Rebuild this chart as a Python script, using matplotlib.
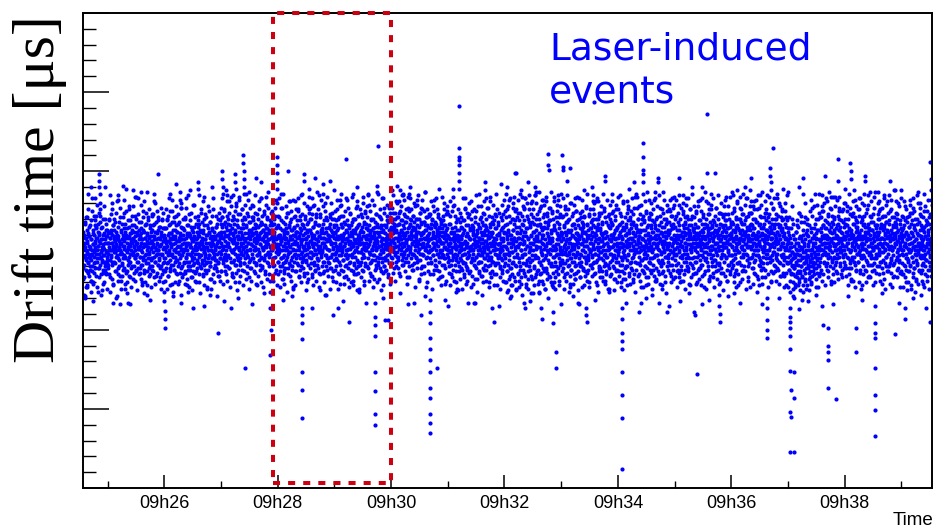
import numpy as np
import matplotlib
matplotlib.use("Agg")
import matplotlib.pyplot as plt
from matplotlib.patches import Rectangle
from matplotlib.ticker import FixedLocator, MultipleLocator

plt.rcParams['font.family'] = ['Liberation Sans', 'DejaVu Sans']

# ------------------------
# Dados: tempo em minutos depois de 09h00, drift time em unidades arbitrárias (0-300)
# ------------------------
seg_start = [24.566, 25, 26, 27, 28, 29, 30, 31, 32, 33, 34, 35, 36, 37, 38, 39]
seg_len = [0.434, 1, 1, 1, 1, 1, 1, 1, 1, 1, 1, 1, 1, 1, 1, 0.54]

# banda principal, primeira leitura (por minuto)
c24 = [150, 162, 141, 155, 133, 147, 168, 152, 138, 158, 145, 171, 149, 127, 156, 143, 161, 136, 153, 146,
       159, 140, 166, 151, 131, 148, 157, 144, 175, 150, 137, 163, 154, 129, 146, 160, 142, 152, 169, 139,
       155, 148, 134, 164, 150, 143, 158, 124, 153, 167, 145, 139, 161, 156, 180, 176, 172, 149, 135, 157,
       144, 152, 165, 138, 154, 147, 160, 130, 151, 143, 170, 157, 140, 149, 163, 136, 155, 146, 159, 142]
c25 = [148, 161, 139, 155, 170, 152, 144, 158, 133, 163, 150, 147, 176, 155, 141, 160, 153, 129, 166, 149,
       157, 143, 151, 168, 137, 154, 162, 146, 158, 181, 150, 135, 159, 145, 165, 152, 140, 156, 171, 148,
       154, 163, 131, 149, 157, 142, 167, 153, 138, 160, 147, 174, 151, 156, 126, 145, 162, 150, 158, 136,
       164, 149, 155, 141, 169, 152, 134, 159, 146, 178, 153, 143, 161, 157, 139, 150, 166, 148, 155, 132,
       147, 158, 162, 140, 153, 172, 145, 156, 150, 137, 165, 154, 143, 160, 148, 183, 152, 139, 157, 163,
       151, 136, 159, 146, 168, 155, 141, 161, 149, 130, 157, 152, 175, 144, 162, 138, 154, 166, 147, 158,
       153, 167, 142, 156, 150, 128, 160, 145, 171, 152, 139, 158, 148, 164, 155, 135, 151, 162, 144, 173,
       156, 140, 163, 149, 154, 137, 159, 167, 146, 152, 180, 143, 157, 150, 134, 161, 148, 155, 169, 141,
       150, 158, 145, 165, 153, 133, 157, 148, 162, 140, 154, 170, 147, 159, 138, 151, 164, 156, 143, 160]
c26 = [145, 158, 151, 137, 164, 149, 155, 170, 142, 153, 160, 134, 147, 156, 166, 150, 139, 158, 144, 175,
       152, 141, 161, 148, 157, 129, 154, 163, 146, 150, 138, 168, 155, 143, 159, 151, 172, 136, 149, 162,
       156, 144, 153, 167, 140, 158, 148, 131, 161, 152, 145, 177, 157, 139, 150, 164, 147, 154, 135, 160,
       149, 163, 142, 155, 151, 170, 137, 158, 146, 153, 128, 161, 150, 143, 166, 155, 140, 159, 148, 173,
       154, 138, 160, 147, 165, 152, 133, 157, 149, 144, 162, 156, 141, 151, 179, 145, 158, 136, 153, 167,
       150, 157, 143, 162, 139, 155, 148, 169, 152, 130, 159, 146, 154, 163, 140, 151, 174, 147, 156, 142,
       158, 135, 153, 161, 149, 144, 166, 151, 157, 138, 148, 171, 155, 142, 160, 126, 152, 164, 145, 150,
       162, 147, 155, 140, 158, 168, 143, 153, 150, 132, 156, 145, 163, 149, 176, 154, 139, 159, 146, 152,
       141, 157, 150, 165, 144, 153, 160, 137, 148, 156, 170, 143, 152, 134, 161, 149, 158, 145, 167, 155]
c27 = [160, 148, 165, 153, 171, 142, 158, 151, 175, 146, 162, 137, 156, 168, 150, 144, 159, 181, 153, 140,
       163, 155, 147, 170, 139, 158, 152, 166, 145, 161, 184, 150, 157, 134, 164, 149, 172, 155, 143, 160,
       151, 167, 156, 141, 162, 148, 178, 154, 136, 159, 146, 169, 157, 152, 144, 165, 130, 158, 150, 173,
       157, 143, 164, 153, 149, 176, 160, 138, 155, 167, 147, 158, 142, 171, 152, 161, 145, 156, 186, 149,
       165, 140, 158, 150, 172, 155, 146, 163, 133, 159, 151, 168, 144, 157, 162, 139, 154, 179, 148, 160,
       153, 169, 145, 161, 156, 137, 164, 150, 174, 158, 142, 155, 166, 147, 160, 128, 157, 151, 170, 144,
       159, 148, 166, 154, 141, 162, 157, 183, 146, 152, 167, 139, 158, 163, 150, 145, 173, 156, 135, 161,
       147, 164, 152, 159, 170, 143, 156, 161, 149, 177, 154, 140, 163, 157, 148, 166, 131, 158, 153, 168,
       162, 150, 175, 145, 158, 152, 140, 167, 155, 160, 146, 172, 153, 138, 164, 157, 149, 180, 151, 159]
c28 = [152, 166, 143, 158, 171, 149, 137, 160, 154, 145, 177, 156, 140, 163, 150, 168, 146, 132, 159, 153,
       161, 147, 155, 139, 167, 152, 158, 144, 174, 150, 162, 135, 156, 148, 165, 142, 153, 181, 157, 141,
       149, 163, 157, 170, 138, 154, 146, 160, 151, 127, 164, 155, 143, 159, 172, 148, 156, 137, 162, 150,
       158, 142, 166, 153, 147, 175, 159, 134, 152, 161, 145, 169, 156, 140, 154, 163, 149, 186, 157, 144,
       146, 160, 151, 164, 136, 157, 150, 172, 143, 158, 155, 130, 162, 148, 167, 153, 141, 159, 176, 152,
       163, 139, 156, 149, 170, 145, 161, 154, 133, 158, 147, 165, 152, 178, 143, 160, 155, 138, 150, 168,
       154, 148, 173, 157, 141, 162, 151, 166, 144, 156, 136, 159, 149, 171, 153, 125, 158, 146, 163, 155,
       150, 164, 143, 158, 167, 152, 137, 161, 155, 147, 180, 153, 140, 157, 162, 145, 169, 151, 134, 160,
       157, 142, 165, 150, 156, 173, 146, 159, 139, 154, 163, 148, 170, 155, 131, 161, 152, 144, 166, 158]
c29 = [148, 162, 155, 140, 169, 153, 145, 159, 176, 151, 136, 164, 157, 143, 150, 171, 158, 129, 154, 147,
       160, 152, 138, 165, 149, 156, 172, 144, 158, 153, 133, 161, 147, 167, 155, 141, 163, 150, 182, 157,
       145, 158, 166, 151, 139, 154, 160, 147, 174, 156, 143, 162, 152, 130, 159, 148, 168, 155, 137, 163,
       153, 141, 157, 170, 150, 161, 146, 155, 135, 164, 152, 178, 144, 158, 149, 166, 140, 156, 160, 126,
       162, 149, 154, 143, 173, 157, 151, 138, 165, 148, 159, 155, 131, 167, 153, 146, 175, 150, 142, 158,
       155, 167, 140, 160, 152, 145, 163, 157, 149, 179, 154, 136, 161, 148, 156, 170, 143, 159, 151, 134,
       150, 158, 164, 147, 155, 132, 160, 153, 168, 144, 157, 151, 173, 139, 162, 156, 146, 165, 152, 141,
       159, 145, 153, 171, 148, 162, 137, 156, 150, 166, 143, 158, 154, 128, 163, 149, 177, 157, 140, 152,
       146, 161, 156, 138, 166, 151, 158, 144, 169, 153, 135, 160, 148, 163, 157, 142, 154, 174, 150, 164]
c30 = [160, 152, 168, 145, 163, 157, 174, 150, 139, 165, 155, 147, 170, 158, 143, 162, 153, 180, 149, 166,
       156, 171, 144, 161, 151, 167, 136, 159, 154, 175, 148, 163, 157, 141, 169, 152, 160, 146, 185, 155,
       164, 149, 158, 172, 143, 161, 155, 168, 150, 133, 162, 157, 147, 177, 153, 165, 140, 159, 151, 170,
       152, 166, 160, 145, 157, 138, 163, 154, 172, 148, 159, 168, 142, 156, 164, 150, 178, 146, 161, 155,
       158, 143, 170, 153, 162, 149, 156, 131, 165, 151, 174, 157, 144, 160, 167, 139, 154, 161, 148, 176,
       147, 162, 155, 168, 140, 158, 152, 166, 157, 127, 163, 150, 171, 146, 159, 154, 137, 165, 156, 149,
       161, 153, 145, 173, 157, 150, 164, 142, 158, 169, 151, 135, 160, 155, 147, 166, 152, 182, 158, 144,
       154, 167, 150, 159, 138, 163, 156, 148, 171, 153, 160, 143, 165, 157, 133, 162, 149, 168, 155, 146,
       150, 159, 164, 147, 155, 172, 141, 158, 152, 166, 145, 161, 129, 156, 163, 151, 175, 148, 160, 154]
c31 = [146, 159, 153, 167, 140, 155, 149, 172, 157, 135, 161, 150, 144, 164, 152, 178, 147, 158, 131, 156,
       162, 148, 154, 141, 168, 151, 157, 145, 160, 126, 153, 170, 143, 158, 149, 163, 137, 155, 174, 150,
       144, 157, 165, 152, 138, 160, 147, 155, 169, 142, 151, 163, 133, 156, 148, 176, 154, 140, 159, 152,
       155, 139, 161, 149, 171, 146, 158, 152, 136, 164, 150, 157, 143, 181, 153, 145, 166, 151, 129, 160,
       150, 163, 144, 157, 154, 168, 140, 152, 159, 146, 175, 155, 132, 161, 148, 156, 142, 165, 153, 137,
       158, 147, 170, 151, 143, 162, 155, 134, 157, 149, 166, 152, 139, 160, 145, 173, 150, 156, 163, 141,
       152, 165, 138, 154, 160, 147, 177, 151, 144, 158, 130, 162, 149, 155, 167, 141, 153, 159, 146, 171,
       161, 143, 156, 150, 167, 135, 158, 153, 148, 164, 155, 142, 172, 151, 157, 128, 160, 147, 154, 166,
       145, 160, 151, 174, 149, 155, 139, 163, 152, 157, 144, 169, 150, 136, 158, 153, 165, 147, 161, 140]
c32 = [142, 166, 153, 130, 171, 148, 159, 137, 176, 151, 162, 125, 155, 147, 182, 144, 160, 134, 168, 152,
       157, 139, 170, 149, 128, 163, 154, 180, 143, 158, 133, 167, 150, 175, 141, 156, 126, 165, 153, 146,
       161, 135, 152, 174, 145, 158, 131, 169, 155, 140, 186, 150, 163, 129, 157, 147, 172, 138, 154, 166,
       148, 177, 156, 136, 162, 151, 183, 142, 159, 127, 164, 153, 144, 170, 132, 158, 149, 176, 140, 155,
       165, 143, 152, 180, 134, 160, 147, 168, 155, 123, 171, 150, 139, 162, 157, 145, 185, 133, 159, 151,
       153, 170, 137, 158, 146, 166, 129, 156, 175, 143, 161, 152, 135, 167, 149, 178, 141, 155, 163, 131,
       147, 160, 154, 139, 173, 151, 165, 126, 157, 145, 181, 153, 138, 164, 150, 172, 136, 159, 144, 168,
       158, 134, 169, 148, 155, 177, 142, 161, 130, 156, 150, 174, 140, 163, 153, 127, 166, 146, 184, 152,
       143, 163, 151, 171, 137, 157, 148, 179, 135, 160, 154, 128, 167, 145, 158, 141, 173, 150, 162, 149]
c33 = [156, 144, 161, 150, 172, 139, 158, 153, 133, 165, 148, 176, 154, 142, 160, 151, 168, 136, 157, 147,
       163, 152, 140, 170, 149, 157, 129, 162, 145, 155, 180, 150, 138, 166, 153, 143, 159, 174, 148, 135,
       151, 167, 146, 158, 132, 161, 154, 175, 141, 156, 149, 169, 137, 160, 152, 145, 183, 157, 140, 164,
       148, 159, 171, 143, 155, 127, 163, 150, 167, 138, 157, 146, 172, 153, 134, 161, 149, 156, 178, 142,
       160, 136, 153, 166, 147, 158, 144, 173, 151, 130, 164, 155, 141, 168, 150, 157, 139, 162, 146, 176,
       154, 170, 142, 159, 151, 135, 165, 148, 156, 181, 143, 160, 152, 128, 163, 147, 170, 155, 137, 158,
       145, 157, 164, 139, 152, 174, 149, 161, 133, 156, 167, 144, 158, 150, 177, 140, 154, 162, 148, 131,
       162, 150, 137, 168, 155, 146, 159, 141, 172, 153, 126, 165, 151, 157, 143, 170, 148, 160, 135, 156,
       152, 166, 144, 158, 175, 140, 161, 154, 147, 169, 132, 157, 150, 163, 145, 179, 153, 138, 164, 149]
c34 = [158, 143, 166, 151, 137, 162, 155, 174, 146, 159, 130, 152, 168, 141, 157, 149, 180, 154, 136, 163,
       147, 160, 153, 171, 140, 156, 165, 144, 152, 128, 161, 157, 148, 176, 155, 134, 163, 150, 169, 142,
       155, 167, 139, 158, 150, 145, 173, 153, 161, 132, 156, 148, 166, 143, 159, 184, 151, 138, 164, 154,
       149, 162, 157, 134, 170, 152, 146, 159, 178, 141, 155, 163, 127, 150, 167, 144, 158, 153, 172, 137,
       163, 145, 151, 168, 156, 140, 160, 149, 175, 154, 133, 165, 152, 147, 161, 129, 157, 170, 143, 155,
       150, 174, 142, 157, 164, 136, 153, 158, 145, 169, 151, 138, 162, 155, 182, 146, 159, 131, 166, 152,
       157, 139, 160, 153, 147, 171, 144, 155, 163, 135, 158, 150, 177, 142, 156, 161, 148, 168, 126, 154,
       144, 165, 152, 159, 137, 156, 170, 149, 162, 154, 130, 167, 146, 158, 151, 175, 140, 160, 153, 143,
       161, 148, 155, 176, 141, 163, 150, 134, 158, 166, 145, 153, 172, 138, 157, 149, 164, 156, 179, 147]
c35 = [151, 165, 144, 158, 172, 148, 160, 137, 155, 168, 142, 157, 179, 150, 163, 133, 154, 146, 170, 159,
       156, 140, 162, 153, 147, 175, 158, 131, 164, 150, 143, 167, 155, 138, 160, 152, 183, 145, 157, 161,
       148, 170, 154, 139, 163, 157, 145, 176, 151, 160, 128, 166, 153, 149, 172, 141, 158, 155, 135, 164,
       162, 146, 159, 167, 152, 136, 157, 174, 143, 155, 161, 149, 130, 165, 153, 178, 147, 160, 139, 156,
       153, 169, 141, 157, 150, 163, 134, 159, 155, 171, 146, 162, 152, 127, 158, 144, 167, 154, 181, 149,
       159, 143, 165, 155, 138, 161, 152, 148, 173, 157, 132, 164, 150, 160, 145, 176, 153, 140, 158, 166,
       147, 161, 156, 133, 168, 151, 159, 144, 163, 154, 177, 149, 137, 162, 155, 142, 170, 152, 158, 129,
       164, 150, 142, 160, 156, 174, 145, 157, 139, 166, 153, 148, 171, 136, 159, 152, 163, 147, 182, 155,
       152, 158, 169, 146, 162, 131, 155, 164, 150, 141, 173, 157, 147, 160, 135, 165, 154, 168, 143, 161]
c36 = [160, 147, 168, 153, 141, 163, 156, 175, 150, 134, 162, 157, 145, 171, 152, 159, 138, 166, 154, 180,
       149, 164, 157, 143, 170, 155, 161, 130, 158, 152, 176, 146, 163, 151, 137, 167, 156, 148, 173, 160,
       157, 140, 162, 154, 169, 148, 159, 183, 144, 165, 152, 133, 160, 156, 172, 142, 158, 153, 127, 166,
       163, 151, 145, 174, 157, 139, 166, 155, 148, 161, 178, 150, 136, 164, 158, 144, 170, 153, 160, 147,
       154, 168, 158, 132, 162, 150, 177, 146, 159, 155, 140, 167, 153, 164, 143, 171, 157, 129, 161, 149,
       165, 142, 156, 171, 152, 160, 138, 158, 150, 174, 163, 145, 155, 185, 148, 162, 135, 159, 154, 168,
       150, 161, 146, 165, 157, 131, 163, 153, 170, 144, 158, 149, 176, 155, 141, 164, 152, 160, 137, 167,
       158, 145, 173, 154, 162, 148, 139, 167, 156, 151, 180, 160, 143, 157, 166, 134, 153, 171, 147, 163,
       146, 164, 155, 159, 136, 170, 152, 161, 144, 175, 157, 150, 165, 128, 158, 154, 169, 142, 162, 156]
c37 = [142, 155, 138, 150, 164, 131, 147, 158, 136, 152, 144, 170, 140, 149, 126, 160, 145, 135, 153, 148,
       139, 157, 146, 129, 162, 143, 151, 133, 166, 148, 137, 155, 141, 174, 150, 130, 158, 144, 147, 136,
       152, 140, 168, 145, 134, 156, 149, 124, 160, 142, 138, 153, 146, 171, 132, 157, 143, 150, 139, 163,
       147, 128, 154, 141, 159, 136, 150, 166, 144, 133, 156, 148, 140, 162, 130, 151, 145, 177, 137, 158,
       143, 160, 149, 135, 155, 146, 167, 139, 152, 127, 158, 144, 163, 150, 141, 170, 148, 134, 157, 153,
       156, 145, 171, 151, 138, 162, 154, 147, 175, 159, 135, 166, 150, 158, 143, 180, 155, 149, 164, 140,
       160, 152, 142, 168, 157, 148, 173, 155, 137, 163, 151, 158, 146, 177, 153, 131, 165, 156, 144, 161,
       149, 167, 155, 139, 162, 153, 145, 171, 158, 150, 184, 143, 160, 154, 136, 166, 148, 157, 172, 151,
       163, 146, 158, 175, 152, 140, 165, 156, 149, 169, 133, 161, 154, 147, 176, 157, 143, 159, 150, 167]
c38 = [157, 170, 148, 162, 153, 139, 166, 155, 178, 145, 160, 151, 135, 164, 157, 149, 173, 142, 158, 161,
       150, 163, 155, 144, 172, 158, 131, 160, 152, 167, 146, 156, 182, 141, 162, 154, 138, 169, 148, 157,
       165, 143, 159, 153, 176, 149, 161, 136, 157, 150, 168, 145, 163, 128, 155, 171, 152, 140, 159, 147,
       154, 167, 146, 160, 138, 162, 156, 174, 150, 143, 165, 158, 133, 161, 153, 179, 147, 157, 164, 141,
       160, 149, 171, 155, 145, 163, 152, 137, 168, 158, 150, 184, 142, 156, 161, 130, 159, 153, 166, 148,
       146, 162, 157, 140, 170, 154, 160, 147, 175, 151, 135, 164, 155, 143, 167, 158, 149, 177, 153, 139,
       163, 152, 144, 166, 157, 132, 161, 150, 172, 155, 146, 168, 140, 159, 154, 181, 148, 162, 137, 158,
       151, 169, 156, 142, 160, 153, 176, 145, 163, 127, 158, 150, 166, 141, 157, 171, 152, 134, 161, 155,
       158, 144, 165, 154, 173, 149, 138, 162, 156, 150, 180, 147, 159, 143, 167, 153, 136, 164, 151, 160]
c39 = [150, 163, 142, 156, 171, 147, 135, 159, 153, 166, 140, 155, 178, 148, 161, 130, 152, 145, 168, 157,
       143, 160, 151, 137, 165, 154, 149, 174, 141, 158, 126, 162, 150, 146, 169, 155, 133, 159, 152, 177,
       156, 139, 164, 148, 153, 170, 144, 157, 131, 161, 150, 167, 142, 155, 149, 180, 138, 160, 153, 146,
       163, 151, 136, 158, 147, 172, 154, 141, 165, 150, 157, 129, 162, 145, 153, 175, 148, 159, 140, 166,
       152, 144, 168, 155, 134, 160, 149, 163, 157, 143, 171, 151, 138, 156, 147, 164, 153, 182, 142, 158]

# banda principal, segunda leitura (mais espalhada, com as colunas verticais)
d24 = [132, 139, 146, 153, 160, 167, 158, 121, 144, 171, 150, 137, 163, 155, 128, 148, 176, 142, 159, 134,
       165, 152, 145, 138, 131, 124, 157, 169, 147, 183, 140, 154, 161, 130, 149, 172, 136, 156, 143, 166,
       151, 158, 165, 172, 179, 145, 127, 162, 139, 153, 174, 133, 148, 160, 141, 168, 155, 122, 146, 164,
       157, 150, 143, 136, 170, 152, 129, 161, 147, 178, 138, 155, 142, 167, 135, 159, 149, 126, 163, 144]
d25 = [141, 148, 155, 162, 169, 135, 158, 124, 150, 173, 146, 161, 132, 155, 180, 143, 166, 151, 128, 159,
       170, 163, 156, 149, 142, 137, 174, 153, 121, 160, 147, 185, 139, 157, 131, 168, 152, 144, 177, 134,
       150, 126, 162, 155, 148, 141, 134, 171, 158, 145, 182, 139, 164, 153, 129, 167, 146, 175, 137, 160,
       123, 130, 137, 144, 151, 158, 165, 176, 142, 154, 133, 169, 148, 161, 127, 156, 172, 140, 163, 149,
       157, 178, 136, 152, 166, 131, 145, 184, 159, 138, 170, 147, 155, 125, 162, 143, 173, 151, 135, 168,
       160, 153, 146, 139, 132, 164, 150, 179, 141, 157, 128, 171, 146, 163, 136, 154, 181, 144, 158, 130,
       167, 148, 174, 137, 155, 122, 161, 142, 169, 152, 134, 176, 149, 159, 140, 166, 127, 156, 145, 172,
       138, 145, 152, 159, 166, 173, 133, 157, 186, 143, 162, 129, 151, 168, 147, 136, 175, 154, 141, 163,
       150, 171, 131, 158, 144, 165, 139, 153, 177, 126, 160, 148, 169, 135, 156, 142, 174, 152, 137, 164]
d26 = [158, 131, 164, 145, 176, 139, 152, 169, 126, 156, 143, 172, 134, 161, 149, 183, 137, 155, 128, 167,
       147, 154, 161, 168, 175, 182, 141, 159, 124, 150, 171, 138, 163, 146, 157, 130, 178, 144, 166, 152,
       135, 162, 149, 173, 129, 156, 142, 168, 136, 159, 153, 122, 165, 147, 180, 140, 157, 133, 170, 151,
       164, 157, 150, 143, 136, 129, 171, 155, 145, 177, 132, 160, 148, 166, 138, 154, 185, 143, 161, 127,
       152, 169, 140, 158, 133, 174, 146, 163, 125, 156, 150, 179, 137, 165, 142, 159, 131, 171, 148, 155,
       130, 137, 144, 151, 158, 165, 172, 142, 160, 135, 167, 153, 123, 162, 147, 176, 139, 156, 144, 168,
       155, 181, 134, 163, 149, 128, 170, 141, 157, 146, 173, 136, 160, 152, 127, 166, 143, 178, 150, 138,
       161, 147, 175, 132, 154, 168, 140, 159, 126, 150, 172, 145, 164, 135, 157, 183, 148, 130, 162, 153,
       144, 151, 158, 165, 172, 139, 121, 155, 167, 142, 160, 134, 174, 149, 156, 131, 169, 145, 177, 137]
d27 = [162, 137, 171, 150, 183, 144, 158, 129, 167, 153, 176, 140, 160, 148, 188, 135, 165, 155, 131, 172,
       146, 153, 160, 167, 174, 181, 139, 157, 127, 163, 150, 178, 143, 169, 136, 156, 185, 149, 161, 133,
       170, 158, 144, 175, 130, 163, 152, 180, 141, 166, 155, 125, 159, 147, 173, 138, 162, 151, 184, 145,
       134, 141, 148, 155, 162, 169, 176, 158, 128, 164, 151, 186, 142, 157, 137, 170, 149, 179, 153, 132,
       166, 147, 174, 136, 161, 155, 182, 143, 168, 126, 159, 150, 177, 139, 163, 154, 131, 171, 145, 160,
       178, 171, 164, 157, 150, 143, 136, 167, 152, 185, 141, 162, 129, 156, 173, 147, 165, 134, 158, 181,
       149, 176, 138, 161, 154, 130, 168, 145, 183, 157, 140, 172, 151, 163, 127, 159, 175, 144, 166, 153,
       137, 160, 155, 179, 132, 164, 148, 171, 142, 157, 187, 146, 161, 135, 169, 152, 124, 163, 150, 174,
       159, 166, 173, 180, 145, 131, 156, 170, 141, 162, 153, 177, 136, 158, 149, 182, 128, 165, 154, 143]
d28 = [148, 172, 135, 160, 151, 183, 140, 164, 127, 156, 169, 145, 177, 132, 158, 153, 186, 142, 163, 138,
       129, 136, 143, 150, 157, 164, 171, 178, 146, 161, 124, 155, 174, 139, 166, 149, 181, 134, 159, 152,
       168, 144, 175, 131, 157, 163, 140, 182, 150, 126, 165, 147, 171, 137, 160, 154, 128, 176, 145, 162,
       155, 162, 169, 176, 183, 141, 133, 158, 150, 172, 138, 164, 148, 185, 130, 156, 167, 143, 173, 152,
       139, 166, 153, 180, 134, 161, 147, 170, 125, 157, 144, 178, 151, 163, 136, 168, 155, 132, 174, 146,
       184, 177, 170, 163, 156, 149, 142, 135, 160, 173, 148, 128, 165, 154, 179, 141, 158, 137, 167, 150,
       157, 131, 171, 145, 162, 187, 139, 153, 176, 144, 159, 127, 166, 151, 173, 135, 161, 148, 182, 140,
       163, 149, 178, 136, 155, 130, 169, 158, 143, 175, 152, 122, 164, 147, 171, 138, 156, 184, 145, 160,
       143, 150, 157, 164, 171, 126, 167, 139, 155, 180, 146, 162, 133, 174, 151, 159, 137, 170, 148, 165]
d29 = [161, 138, 175, 149, 166, 130, 157, 182, 144, 163, 152, 126, 170, 147, 159, 135, 178, 154, 141, 167,
       186, 179, 172, 165, 158, 151, 144, 137, 160, 129, 168, 153, 175, 140, 157, 148, 183, 134, 162, 150,
       145, 169, 132, 156, 177, 142, 164, 127, 159, 151, 173, 138, 166, 155, 184, 146, 161, 131, 170, 153,
       128, 135, 142, 149, 156, 163, 170, 177, 150, 139, 165, 157, 181, 143, 160, 136, 172, 154, 124, 167,
       158, 176, 141, 163, 149, 133, 171, 155, 145, 180, 137, 162, 152, 128, 168, 146, 174, 159, 140, 164,
       150, 157, 164, 171, 178, 185, 139, 153, 166, 131, 160, 148, 175, 142, 157, 169, 134, 163, 151, 182,
       144, 170, 153, 127, 162, 147, 179, 138, 156, 165, 141, 173, 150, 158, 130, 167, 155, 186, 143, 161,
       172, 132, 159, 148, 176, 139, 164, 153, 125, 170, 145, 157, 183, 136, 162, 151, 174, 140, 166, 154,
       137, 144, 151, 158, 165, 172, 179, 147, 160, 133, 168, 155, 142, 177, 150, 163, 129, 171, 156, 146]
d30 = [165, 142, 177, 156, 170, 136, 161, 185, 149, 167, 155, 131, 174, 152, 163, 140, 181, 158, 146, 171,
       139, 146, 153, 160, 167, 174, 181, 188, 157, 134, 169, 150, 178, 144, 162, 155, 186, 141, 166, 153,
       173, 148, 182, 137, 160, 168, 145, 176, 156, 129, 171, 151, 184, 143, 164, 158, 133, 175, 149, 167,
       190, 183, 176, 169, 162, 155, 148, 141, 165, 138, 172, 159, 180, 147, 163, 153, 127, 170, 156, 145,
       160, 179, 139, 166, 154, 185, 144, 170, 151, 132, 174, 161, 148, 177, 157, 135, 168, 152, 182, 140,
       147, 154, 161, 168, 175, 136, 163, 150, 187, 145, 171, 158, 130, 166, 153, 176, 142, 160, 149, 173,
       157, 172, 135, 164, 150, 181, 143, 167, 158, 126, 170, 147, 178, 155, 162, 138, 175, 152, 165, 141,
       168, 154, 183, 140, 161, 148, 176, 132, 159, 173, 146, 164, 189, 137, 156, 170, 150, 128, 167, 155,
       134, 141, 148, 155, 162, 169, 176, 159, 145, 180, 152, 166, 139, 173, 157, 131, 164, 151, 178, 143]
d31 = [150, 173, 136, 158, 144, 167, 128, 155, 181, 141, 162, 149, 175, 133, 157, 146, 184, 138, 160, 152,
       179, 172, 165, 158, 151, 144, 137, 130, 163, 147, 170, 125, 156, 176, 140, 159, 153, 132, 168, 145,
       158, 139, 171, 150, 126, 164, 154, 183, 143, 161, 135, 169, 148, 177, 142, 155, 129, 166, 152, 174,
       131, 138, 145, 152, 159, 166, 173, 147, 180, 137, 157, 163, 127, 170, 150, 144, 175, 134, 161, 154,
       165, 148, 176, 141, 160, 132, 156, 171, 146, 185, 139, 163, 153, 124, 167, 150, 178, 143, 158, 136,
       143, 150, 157, 164, 171, 178, 134, 160, 147, 168, 155, 130, 174, 149, 162, 138, 181, 153, 145, 166,
       156, 170, 131, 163, 148, 177, 140, 158, 152, 127, 172, 146, 165, 136, 159, 184, 144, 161, 133, 168,
       137, 162, 155, 179, 143, 150, 169, 128, 157, 173, 141, 164, 151, 186, 135, 160, 147, 176, 154, 142,
       168, 161, 154, 147, 140, 133, 126, 171, 158, 145, 179, 150, 164, 138, 156, 173, 131, 162, 148, 182]
d32 = [145, 175, 130, 161, 152, 186, 137, 167, 124, 157, 178, 141, 163, 149, 132, 172, 155, 183, 139, 160,
       121, 128, 135, 142, 149, 156, 163, 170, 177, 184, 146, 158, 131, 169, 152, 140, 176, 125, 162, 148,
       171, 136, 158, 182, 143, 165, 127, 154, 174, 138, 161, 150, 188, 133, 167, 146, 122, 159, 178, 142,
       155, 162, 169, 176, 183, 134, 148, 141, 164, 129, 172, 153, 180, 137, 157, 126, 168, 145, 185, 151,
       138, 166, 150, 123, 173, 159, 144, 181, 132, 162, 154, 176, 140, 167, 128, 156, 185, 147, 163, 135,
       187, 180, 173, 166, 159, 152, 145, 138, 131, 124, 170, 156, 143, 177, 150, 165, 136, 160, 182, 148,
       158, 129, 171, 144, 164, 137, 179, 153, 126, 168, 147, 184, 139, 161, 155, 132, 174, 149, 120, 166,
       142, 177, 156, 133, 169, 151, 187, 140, 163, 128, 158, 175, 146, 136, 170, 153, 181, 130, 164, 150,
       126, 133, 140, 147, 154, 161, 168, 175, 182, 157, 139, 171, 148, 164, 131, 178, 152, 143, 186, 160]
d33 = [160, 137, 171, 148, 183, 142, 157, 126, 166, 152, 178, 135, 162, 149, 173, 131, 156, 185, 144, 168,
       176, 169, 162, 155, 148, 141, 134, 127, 158, 180, 145, 163, 138, 172, 151, 160, 129, 167, 154, 143,
       153, 179, 140, 164, 132, 157, 147, 175, 136, 161, 184, 148, 166, 125, 155, 170, 142, 159, 133, 174,
       133, 140, 147, 154, 161, 168, 175, 182, 150, 139, 165, 156, 128, 171, 146, 162, 137, 177, 153, 144,
       167, 131, 158, 186, 145, 163, 138, 172, 151, 127, 160, 149, 176, 141, 164, 155, 134, 169, 147, 181,
       152, 159, 166, 173, 180, 143, 136, 161, 148, 170, 130, 157, 183, 144, 165, 150, 124, 167, 139, 174,
       140, 172, 149, 163, 133, 156, 178, 145, 160, 137, 168, 153, 186, 131, 161, 147, 175, 142, 158, 129,
       171, 146, 162, 135, 155, 182, 141, 166, 150, 126, 173, 157, 139, 164, 152, 179, 134, 160, 148, 168,
       181, 174, 167, 160, 153, 146, 139, 132, 125, 163, 150, 172, 143, 158, 137, 176, 155, 130, 165, 147]
d34 = [149, 176, 134, 160, 152, 185, 141, 167, 127, 155, 172, 144, 163, 137, 158, 181, 132, 165, 150, 146,
       125, 132, 139, 146, 153, 160, 167, 174, 181, 155, 140, 169, 147, 178, 136, 161, 153, 129, 171, 158,
       164, 143, 175, 138, 157, 183, 146, 162, 130, 168, 151, 177, 135, 160, 149, 124, 166, 154, 186, 142,
       184, 177, 170, 163, 156, 149, 142, 135, 159, 173, 131, 162, 150, 179, 144, 157, 138, 170, 153, 127,
       157, 136, 169, 148, 181, 140, 163, 152, 128, 174, 145, 160, 187, 139, 166, 150, 133, 171, 156, 143,
       138, 145, 152, 159, 166, 173, 180, 149, 126, 162, 155, 176, 141, 168, 134, 158, 183, 147, 164, 131,
       170, 154, 132, 163, 147, 178, 137, 160, 151, 185, 143, 166, 129, 157, 172, 140, 162, 149, 176, 136,
       161, 128, 156, 174, 142, 165, 150, 182, 134, 159, 146, 170, 155, 123, 168, 152, 179, 138, 163, 145,
       147, 154, 161, 168, 175, 182, 136, 158, 130, 172, 149, 164, 141, 177, 155, 132, 167, 151, 184, 160]
d35 = [156, 133, 170, 147, 182, 141, 163, 152, 127, 174, 158, 138, 166, 149, 185, 136, 160, 153, 130, 177,
       131, 138, 145, 152, 159, 166, 173, 180, 148, 162, 135, 171, 155, 126, 168, 143, 179, 150, 164, 140,
       172, 146, 183, 137, 159, 129, 166, 154, 176, 142, 161, 150, 133, 170, 157, 145, 186, 139, 163, 152,
       178, 171, 164, 157, 150, 143, 136, 129, 160, 175, 146, 165, 153, 181, 138, 158, 132, 169, 155, 144,
       162, 139, 175, 151, 128, 167, 147, 183, 141, 159, 154, 173, 135, 164, 149, 187, 137, 157, 170, 126,
       145, 152, 159, 166, 173, 180, 140, 163, 131, 156, 176, 148, 168, 134, 161, 150, 179, 143, 165, 153,
       169, 136, 158, 183, 144, 162, 127, 172, 151, 140, 166, 155, 177, 132, 160, 147, 185, 138, 163, 150,
       141, 174, 153, 130, 167, 157, 146, 180, 136, 162, 150, 173, 125, 165, 155, 143, 178, 152, 134, 169,
       173, 166, 159, 152, 145, 138, 131, 156, 178, 149, 164, 141, 170, 154, 184, 137, 160, 147, 167, 158]
d36 = [161, 139, 174, 152, 185, 144, 167, 130, 158, 177, 148, 163, 136, 170, 155, 127, 165, 150, 181, 142,
       128, 135, 142, 149, 156, 163, 170, 177, 184, 157, 141, 168, 153, 132, 173, 160, 146, 186, 138, 162,
       167, 150, 179, 137, 160, 154, 126, 171, 147, 163, 183, 140, 158, 152, 131, 174, 145, 165, 156, 178,
       188, 181, 174, 167, 160, 153, 146, 139, 164, 129, 170, 155, 176, 143, 159, 150, 135, 168, 157, 182,
       150, 176, 134, 162, 147, 185, 141, 166, 156, 128, 172, 153, 144, 179, 138, 160, 151, 187, 133, 164,
       139, 146, 153, 160, 167, 174, 181, 155, 133, 169, 148, 176, 142, 163, 157, 127, 171, 150, 184, 145,
       173, 143, 165, 152, 180, 137, 158, 130, 167, 154, 147, 177, 136, 161, 183, 149, 166, 140, 156, 170,
       158, 131, 170, 147, 162, 186, 144, 155, 138, 172, 160, 129, 165, 151, 178, 142, 163, 153, 134, 175,
       176, 169, 162, 155, 148, 141, 134, 127, 159, 180, 146, 167, 152, 136, 171, 157, 185, 143, 164, 150]
d37 = [146, 127, 160, 138, 171, 143, 152, 124, 164, 135, 155, 178, 141, 149, 130, 167, 145, 121, 157, 139,
       120, 127, 134, 141, 148, 155, 162, 169, 136, 150, 128, 165, 144, 153, 132, 174, 147, 137, 159, 125,
       158, 140, 172, 133, 151, 119, 163, 146, 128, 168, 142, 155, 136, 180, 149, 131, 161, 144, 126, 170,
       167, 160, 153, 146, 139, 132, 125, 156, 143, 175, 137, 150, 129, 164, 147, 158, 134, 172, 141, 153,
       155, 178, 139, 164, 148, 186, 142, 161, 132, 170, 157, 145, 179, 136, 163, 151, 127, 174, 150, 140,
       136, 143, 150, 157, 164, 171, 178, 185, 154, 131, 166, 148, 175, 142, 160, 155, 128, 169, 152, 183,
       164, 147, 181, 138, 159, 152, 133, 172, 145, 167, 155, 187, 140, 162, 150, 129, 176, 157, 143, 168,
       172, 135, 158, 184, 146, 163, 130, 170, 153, 141, 178, 150, 164, 137, 159, 182, 145, 167, 155, 132,
       184, 177, 170, 163, 156, 149, 142, 135, 162, 150, 175, 158, 138, 168, 153, 146, 180, 139, 165, 157]
d38 = [153, 180, 141, 166, 134, 159, 175, 146, 162, 128, 170, 155, 186, 139, 163, 150, 177, 144, 160, 131,
       132, 139, 146, 153, 160, 167, 174, 181, 188, 156, 143, 171, 150, 127, 165, 158, 137, 178, 148, 163,
       168, 143, 176, 152, 161, 130, 172, 147, 183, 138, 159, 154, 126, 169, 145, 180, 157, 135, 166, 151,
       186, 179, 172, 165, 158, 151, 144, 137, 130, 162, 176, 149, 167, 141, 157, 185, 134, 163, 153, 172,
       157, 133, 168, 147, 181, 141, 163, 155, 128, 173, 150, 138, 177, 160, 145, 166, 152, 187, 136, 164,
       145, 152, 159, 166, 173, 180, 187, 140, 162, 149, 170, 131, 157, 176, 143, 165, 154, 129, 171, 158,
       172, 149, 136, 164, 155, 183, 142, 160, 151, 126, 168, 146, 179, 137, 158, 163, 140, 174, 153, 185,
       140, 167, 152, 129, 175, 157, 144, 182, 136, 161, 150, 171, 133, 165, 147, 188, 142, 159, 154, 168,
       160, 167, 174, 181, 146, 133, 156, 170, 139, 163, 151, 178, 144, 158, 127, 169, 155, 183, 137, 161]
d39 = [148, 172, 135, 158, 127, 164, 150, 181, 141, 160, 133, 169, 154, 145, 176, 138, 162, 125, 157, 171,
       130, 137, 144, 151, 158, 165, 172, 179, 149, 140, 167, 155, 128, 174, 146, 161, 136, 183, 152, 143,
       166, 139, 175, 150, 124, 163, 147, 157, 132, 170, 153, 185, 141, 160, 148, 129, 168, 155, 137, 177,
       180, 173, 166, 159, 152, 145, 138, 131, 156, 163, 142, 171, 150, 127, 165, 147, 178, 135, 159, 153,
       144, 169, 157, 131, 175, 149, 162, 138, 182, 154, 126, 167, 146, 173, 140, 158, 151, 134, 164, 179]

cloud = [c24, c25, c26, c27, c28, c29, c30, c31, c32, c33, c34, c35, c36, c37, c38, c39]
cloud2 = [d24, d25, d26, d27, d28, d29, d30, d31, d32, d33, d34, d35, d36, d37, d38, d39]

# bordas da banda (acima e abaixo), tempo [min], drift
fringe = [(24.65, 186), (24.78, 183), (24.95, 190), (25.05, 185), (25.18, 182), (25.32, 189), (25.50, 184),
          (25.70, 187), (25.82, 181), (26.10, 186), (26.20, 192), (26.38, 183), (26.45, 188), (26.70, 184),
          (26.85, 190), (27.10, 185), (27.32, 182), (27.50, 187), (27.70, 193), (27.80, 184), (28.05, 186),
          (28.30, 181), (28.55, 189), (28.60, 183), (28.72, 185), (29.00, 188), (29.10, 182), (29.40, 190),
          (29.50, 184), (29.60, 186), (29.85, 183), (30.10, 191), (30.20, 185), (30.45, 182), (30.60, 187),
          (30.90, 184), (31.10, 189), (31.30, 183), (31.55, 186), (31.75, 181), (32.05, 190), (32.30, 184),
          (32.60, 187), (32.68, 182), (32.95, 185), (33.10, 194), (33.25, 183), (33.40, 188), (33.65, 181),
          (33.90, 186), (34.00, 184), (34.20, 189), (34.55, 182), (34.80, 187), (34.95, 183), (35.15, 185),
          (35.30, 190), (35.45, 182), (35.65, 186), (35.90, 184), (36.10, 188), (36.40, 181), (36.50, 185),
          (36.80, 183), (37.00, 187), (37.20, 190), (37.40, 182), (37.55, 186), (37.75, 184), (38.00, 189),
          (38.25, 183), (38.45, 187), (38.60, 181), (38.70, 185), (39.00, 188), (39.15, 182), (39.40, 186),
          (24.58, 122), (24.75, 118), (24.90, 125), (25.15, 120), (25.40, 116), (25.65, 123), (25.75, 119),
          (26.15, 121), (26.30, 117), (26.42, 124), (26.70, 115), (26.80, 122), (27.05, 118), (27.30, 120),
          (27.55, 116), (27.75, 123), (28.10, 119), (28.25, 121), (28.60, 114), (28.85, 122), (29.15, 118),
          (29.40, 125), (29.55, 117), (29.85, 120), (30.15, 123), (30.30, 116), (30.60, 121), (30.95, 119),
          (31.15, 124), (31.35, 117), (31.60, 122), (31.90, 115), (32.10, 120), (32.45, 118), (32.60, 123),
          (33.00, 116), (33.20, 121), (33.60, 119), (33.85, 124), (34.15, 117), (34.50, 120), (34.60, 122),
          (34.90, 115), (35.10, 118), (35.25, 123), (35.60, 119), (35.95, 121), (36.15, 117), (36.45, 124),
          (36.55, 116), (36.85, 120), (37.20, 113), (37.35, 118), (37.50, 122), (37.80, 116), (38.05, 121),
          (38.30, 119), (38.65, 123), (38.95, 117), (39.20, 120), (39.35, 122)]

# eventos fora da banda principal (tempo [min], drift)
tails = [(24.70, 190), (24.85, 198), (24.85, 194), (24.85, 190), (24.86, 186), (24.62, 127), (24.60, 120),
         (25.28, 191), (25.45, 188), (25.59, 187), (25.88, 198), (25.10, 117), (25.22, 116), (25.36, 117),
         (25.98, 130), (25.99, 124), (26.00, 118), (26.01, 112), (26.01, 107), (26.02, 101),
         (26.28, 187), (26.28, 182), (26.29, 177), (26.60, 193), (26.60, 189), (26.61, 185),
         (26.51, 114), (26.95, 98),
         (27.02, 200), (27.02, 195), (27.03, 190), (27.03, 186), (27.25, 198), (27.25, 193), (27.26, 189),
         (27.39, 210), (27.39, 205), (27.40, 200), (27.40, 195), (27.40, 190), (27.62, 196),
         (27.43, 76), (27.18, 114), (27.87, 114), (27.88, 100), (27.87, 84),
         (27.98, 209), (27.98, 204), (27.98, 199), (27.98, 194), (27.99, 189),
         (28.19, 200), (28.47, 198), (28.47, 194), (28.66, 196), (28.80, 192), (28.80, 186), (28.93, 194),
         (28.43, 114), (28.43, 109), (28.43, 104), (28.43, 94), (28.43, 73), (28.43, 62), (28.43, 44),
         (28.98, 109), (29.07, 114), (29.25, 105),
         (29.21, 208), (29.33, 186), (29.77, 216), (29.76, 191), (29.76, 187),
         (29.72, 117), (29.72, 108), (29.72, 103), (29.72, 96), (29.72, 73), (29.72, 61), (29.72, 47), (29.72, 40),
         (29.90, 106), (29.95, 106),
         (30.02, 188), (30.32, 186), (30.41, 117), (30.53, 109),
         (30.69, 119), (30.69, 111), (30.69, 104), (30.69, 95), (30.69, 88), (30.69, 81),
         (30.69, 73), (30.69, 63), (30.69, 57), (30.69, 47), (30.69, 41), (30.69, 35),
         (30.81, 76), (31.01, 115),
         (31.20, 241), (31.20, 215), (31.20, 209), (31.20, 207), (31.20, 204), (31.20, 199), (31.20, 194), (31.20, 189),
         (31.66, 193), (31.66, 188), (31.67, 183), (31.93, 192), (31.47, 117), (31.48, 117), (31.82, 105), (31.78, 114),
         (32.19, 199), (32.21, 199), (32.42, 193), (32.54, 190), (32.77, 211), (32.77, 204), (32.78, 201),
         (32.35, 117), (32.36, 114), (32.65, 114), (32.66, 107), (32.90, 86), (32.90, 76), (32.86, 104), (32.86, 111),
         (33.02, 210), (33.03, 203), (33.03, 201), (33.16, 202), (33.55, 190), (33.56, 185),
         (33.13, 124), (33.30, 117), (33.31, 116), (33.44, 114), (33.44, 109), (33.45, 105),
         (33.78, 197), (33.78, 194), (33.57, 244),
         (34.08, 114), (34.08, 107), (34.08, 98), (34.08, 93), (34.08, 88), (34.08, 73), (34.08, 59), (34.08, 44), (34.08, 12),
         (34.45, 218), (34.45, 209), (34.45, 201), (34.45, 198), (34.45, 193), (34.45, 186),
         (34.29, 193), (34.70, 196), (34.70, 193), (34.66, 187), (34.38, 111), (34.40, 117), (34.73, 117), (34.86, 111),
         (35.07, 196), (35.58, 236), (35.58, 199), (35.72, 199), (35.49, 190),
         (35.35, 111), (35.36, 109), (35.40, 72), (35.49, 116), (35.79, 122), (35.79, 115), (35.80, 110), (35.80, 105),
         (36.02, 187), (36.34, 196), (36.25, 190), (36.05, 123),
         (36.69, 202), (36.69, 197), (36.70, 193), (36.70, 188), (36.74, 215),
         (36.63, 120), (36.63, 114), (36.63, 106), (36.63, 100), (36.63, 95), (36.92, 189),
         (37.04, 114), (37.04, 108), (37.04, 105), (37.04, 101), (37.04, 96), (37.04, 88), (37.04, 74),
         (37.11, 73), (37.05, 62), (37.11, 57), (37.04, 48), (37.05, 45), (37.04, 23), (37.11, 23),
         (37.27, 196), (37.27, 186), (37.66, 197), (37.89, 208), (37.89, 194),
         (37.70, 101), (37.70, 90), (37.70, 86), (37.70, 81), (37.70, 63), (37.85, 56), (37.60, 115), (37.62, 103),
         (38.10, 205), (38.11, 200), (38.12, 195), (38.36, 197), (38.36, 194), (38.80, 194), (38.89, 188),
         (38.54, 104), (38.54, 98), (38.54, 95), (38.54, 76), (38.54, 59), (38.54, 49), (38.54, 33),
         (38.20, 101), (38.20, 86), (38.89, 97), (38.54, 115),
         (39.30, 187), (39.50, 206), (39.52, 195), (39.52, 188), (39.07, 114), (39.07, 107), (39.51, 105), (39.44, 114)]

xticks = [26, 28, 30, 32, 34, 36, 38]
xlabels = ['09h26', '09h28', '09h30', '09h32', '09h34', '09h36', '09h38']

# caixa tracejada (janela selecionada)
box_t0, box_t1 = 27.915, 30.0

# ------------------------
# Figura
# ------------------------
fig = plt.figure(figsize=(9.37, 5.29), dpi=100)
ax = fig.add_axes([83 / 937, 41 / 529, 849 / 937, 475 / 529])

for lists in (cloud, cloud2):
    for start, length, vals in zip(seg_start, seg_len, lists):
        n = len(vals)
        t = start + (np.arange(n) + 0.5) / n * length
        ax.plot(t, vals, 'o', color='#0000ff', ms=3.0, mew=0)

for pts in (fringe, tails):
    tt, ty = zip(*pts)
    ax.plot(tt, ty, 'o', color='#0000ff', ms=3.0, mew=0)

ax.add_patch(Rectangle((box_t0, 3), box_t1 - box_t0, 297, fill=False,
                       edgecolor='#cc0010', linewidth=2.9,
                       linestyle=(0, (1.75, 2.0)), clip_on=False, zorder=5))

ax.set_xlim(24.566, 39.54)
ax.set_ylim(0, 300)
ax.xaxis.set_major_locator(FixedLocator(xticks))
ax.set_xticklabels(xlabels)
ax.xaxis.set_minor_locator(MultipleLocator(1))
ax.yaxis.set_major_locator(MultipleLocator(50))
ax.yaxis.set_minor_locator(MultipleLocator(10))

ax.tick_params(axis='x', which='major', direction='in', length=9.4, width=1.1,
               top=False, labelsize=13, pad=5)
ax.tick_params(axis='x', which='minor', direction='in', length=5, width=1.0, top=False)
ax.tick_params(axis='y', which='major', direction='in', length=18.5, width=1.1,
               right=False, labelleft=False)
ax.tick_params(axis='y', which='minor', direction='in', length=9, width=1.0, right=False)
for s in ax.spines.values():
    s.set_linewidth(1.4)

fig.text(933 / 937, 1 - 525 / 529, 'Time', ha='right', va='baseline', fontsize=13.5)
fig.text(40 / 937, 1 - 15 / 529, 'Drift time [μs]', rotation=90, ha='center', va='top',
         fontsize=43, family=['Liberation Serif', 'DejaVu Serif'])

ax.text(549 / 937, 1 - 60 / 529, 'Laser-induced', transform=fig.transFigure, color='#0000ff',
        fontsize=27, family='DejaVu Sans', va='baseline', ha='left')
ax.text(549 / 937, 1 - 103 / 529, 'events', transform=fig.transFigure, color='#0000ff',
        fontsize=27, family='DejaVu Sans', va='baseline', ha='left')

fig.savefig('out.png', dpi=100)
